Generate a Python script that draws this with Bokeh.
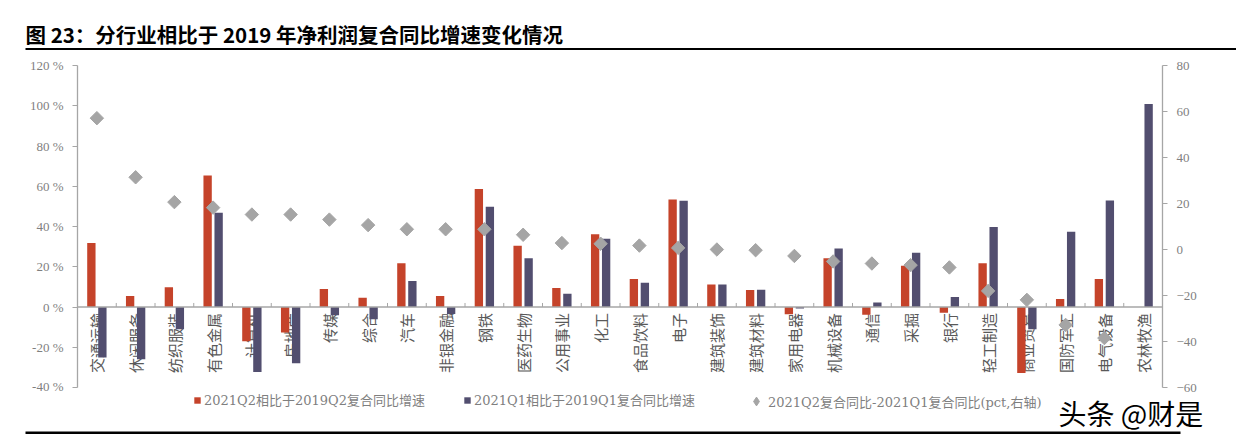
import math
from bokeh.plotting import figure
from bokeh.layouts import column
from bokeh.models import (FactorRange, Range1d, LinearAxis, FixedTicker, PrintfTickFormatter,
                          Span, Legend, LegendItem, ColumnDataSource)
from bokeh.transform import dodge
from bokeh.core.properties import value
from bokeh.embed import file_html
from bokeh.resources import INLINE

nan = float("nan")

categories = ["交通运输", "休闲服务", "纺织服装", "有色金属", "计算机", "房地产", "传媒", "综合",
              "汽车", "非银金融", "钢铁", "医药生物", "公用事业", "化工", "食品饮料", "电子",
              "建筑装饰", "建筑材料", "家用电器", "机械设备", "通信", "采掘", "银行", "轻工制造",
              "商业贸易", "国防军工", "电气设备", "农林牧渔"]

q2_vs_2019q2 = [31.8, 5.5, 9.8, 65.3, -17.0, -12.7, 8.9, 4.6, 21.8, 5.5, 58.6, 30.4, 9.4, 36.2,
                13.9, 53.4, 11.2, 8.4, -3.6, 24.2, -3.8, 20.5, -2.8, 21.8, -32.8, 4.0, 13.9, nan]
q1_vs_2019q1 = [-25.1, -26.0, -11.1, 46.8, -32.3, -28.0, -4.1, -6.1, 12.9, -3.5, 49.8, 24.2, 6.6, 33.9,
                12.1, 52.8, 11.2, 8.6, -0.8, 29.1, 2.2, 26.9, 5.0, 39.7, -11.1, 37.4, 52.9, 100.9]
diff_pct = [57.1, 31.4, 20.6, 18.2, 15.2, 15.2, 13.0, 10.6, 8.8, 8.8, 8.8, 6.4, 2.8, 2.5,
            1.7, 0.7, 0.0, -0.3, -2.8, -5.2, -6.1, -6.8, -7.8, -18.0, -21.9, -32.8, -38.5, nan]

left_ticks = [-40, -20, 0, 20, 40, 60, 80, 100, 120]
right_ticks = [-60, -40, -20, 0, 20, 40, 60, 80]

legend_labels = ["2021Q2相比于2019Q2复合同比增速",
                 "2021Q1相比于2019Q1复合同比增速",
                 "2021Q2复合同比-2021Q1复合同比(pct,右轴)"]
title_text = "图 23：分行业相比于 2019 年净利润复合同比增速变化情况"
watermark = "头条 @财是"

W = 1236
RED = "#C5432A"
BLUE = "#524E6F"
GREY = "#A5A5A5"
AX = "#A6A6A6"
TXT = "#7F7F7F"
SERIF = "'Liberation Serif', 'Noto Sans CJK SC'"
LEG_FONT = "'DejaVu Serif', 'Noto Sans CJK SC'"
CJK = "Noto Sans CJK SC"


def strip(height):
    f = figure(width=W, height=height, x_range=Range1d(0, W), y_range=Range1d(height, 0),
               output_backend="svg", toolbar_location=None, x_axis_location=None,
               y_axis_location=None, min_border=0, frame_align=False)
    f.outline_line_color = None
    f.grid.visible = False
    f.background_fill_color = "white"
    f.border_fill_color = "white"
    return f


# ---- title strip -------------------------------------------------------
top = strip(50)
top.text(x=[25], y=[33], text=[title_text], text_font=value(CJK), text_font_style="bold",
         text_font_size="20.5px", text_baseline="middle", text_color="black")
top.quad(left=[25], right=[W], top=[47.5], bottom=[50], fill_color="black", line_color=None)

# ---- main chart --------------------------------------------------------
src = ColumnDataSource(dict(cat=categories, q2=q2_vs_2019q2, q1=q1_vs_2019q1, d=diff_pct,
                            zero=[0] * len(categories), tk=[2] * len(categories)))

p = figure(width=W, height=343, x_range=FactorRange(*categories, range_padding=0),
           y_range=Range1d(left_ticks[0], left_ticks[-1]),
           output_backend="svg", toolbar_location=None, x_axis_location=None,
           min_border_left=77, min_border_right=W - 1162, min_border_top=15, min_border_bottom=6,
           frame_align=False)
p.extra_y_ranges = {"right": Range1d(right_ticks[0], right_ticks[-1])}
p.outline_line_color = None
p.grid.visible = False
p.background_fill_color = "white"
p.border_fill_color = "white"

ya = p.yaxis[0]
ya.ticker = FixedTicker(ticks=left_ticks)
ya.formatter = PrintfTickFormatter(format="%d %%")
ra = LinearAxis(y_range_name="right", ticker=FixedTicker(ticks=right_ticks))
p.add_layout(ra, "right")
for ax in (ya, ra):
    ax.axis_line_color = AX
    ax.axis_line_width = 1.3
    ax.major_tick_line_color = AX
    ax.major_tick_out = 5
    ax.major_tick_in = 0
    ax.minor_tick_line_color = None
    ax.major_label_text_color = TXT
    ax.major_label_text_font = SERIF
    ax.major_label_text_font_size = "13px"
    ax.major_label_standoff = 9

# category labels (drawn under the bars)
p.text(x="cat", y="zero", text="cat", source=src, angle=math.pi / 2, text_align="right",
       text_baseline="middle", y_offset=6, text_font=value(CJK), text_font_size="15px",
       text_color="#595959")

r_q2 = p.vbar(x=dodge("cat", -0.142, range=p.x_range), top="q2", width=0.215, source=src,
              fill_color=RED, line_color=None)
r_q1 = p.vbar(x=dodge("cat", 0.142, range=p.x_range), top="q1", width=0.215, source=src,
              fill_color=BLUE, line_color=None)

p.add_layout(Span(location=0, dimension="width", line_color=AX, line_width=1.5))
p.segment(x0=dodge("cat", -0.5, range=p.x_range), y0="zero",
          x1=dodge("cat", -0.5, range=p.x_range), y1="tk", source=src,
          line_color=AX, line_width=1)

r_d = p.scatter(x="cat", y="d", source=src, y_range_name="right", marker="square",
                angle=math.pi / 4, size=9.5, fill_color=GREY, line_color=GREY)

# ---- bottom strip: legend + watermark ----------------------------------
BH = 437 - 50 - 343
bot = strip(BH)
s_q2 = bot.rect(x=[nan], y=[nan], width=1, height=1, fill_color=RED, line_color=None)
s_q1 = bot.rect(x=[nan], y=[nan], width=1, height=1, fill_color=BLUE, line_color=None)
s_d = bot.scatter(x=[nan], y=[nan], marker="diamond", size=12,
                  fill_color=GREY, line_color=GREY)
legend_specs = ((s_q2, legend_labels[0], 193, 8, 8),
                (s_q1, legend_labels[1], 463, 8, 8),
                (s_d, legend_labels[2], 745, 22, 26))
for rend, lab, xloc, gw, gh in legend_specs:
    lg = Legend(items=[LegendItem(label=lab, renderers=[rend])],
                location=(xloc, BH - 8 - max(gh, 16) / 2),
                orientation="horizontal", border_line_color=None, background_fill_alpha=0,
                padding=0, margin=0, glyph_width=gw, glyph_height=gh,
                label_standoff=1 if gw > 8 else 3, label_text_font=LEG_FONT,
                label_text_font_size="13px", label_text_color=TXT, label_height=14)
    bot.add_layout(lg, "center")
bot.text(x=[1058], y=[19], text=[watermark], text_font=value(CJK), text_font_size="28px",
         text_baseline="middle", text_color="black")
bot.quad(left=[25], right=[1180], top=[38], bottom=[40.5], fill_color="black", line_color=None)

layout = column(top, p, bot, spacing=0)
open("out.html", "w").write(file_html(layout, INLINE))
